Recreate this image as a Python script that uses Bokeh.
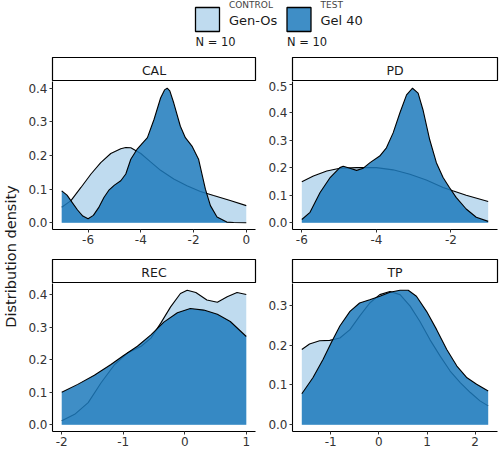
import numpy as np
from bokeh.plotting import figure
from bokeh.layouts import column, row
from bokeh.models import Range1d, FixedTicker, PrintfTickFormatter
from bokeh.core.properties import value
from bokeh.embed import file_html
from bokeh.resources import INLINE

# ---------------- data ----------------
group_names = ["Gen-Os", "Gel 40"]
group_roles = ["CONTROL", "TEST"]
group_n = [10, 10]
panel_names = ["CAL", "PD", "REC", "TP"]

cal_x_ctrl = [-7.0, -6.65, -6.27, -5.89, -5.52, -5.14, -4.76, -4.57, -4.38, -4.0, -3.63, -3.25, -2.75, -2.25, -1.74, -1.24, -0.61, 0.0]
cal_y_ctrl = [0.046, 0.066, 0.105, 0.145, 0.179, 0.206, 0.220, 0.224, 0.223, 0.206, 0.181, 0.156, 0.130, 0.110, 0.093, 0.081, 0.066, 0.051]
cal_x_test = [-7.0, -6.8, -6.6, -6.4, -6.2, -6.0, -5.8, -5.6, -5.4, -5.2, -5.0, -4.76, -4.57, -4.38, -4.13, -3.75, -3.5, -3.25, -3.1, -3.0, -2.9, -2.75, -2.5, -2.31, -2.06, -1.81, -1.55, -1.36, -1.11, -0.74, -0.48, 0.0]
cal_y_test = [0.095, 0.082, 0.060, 0.038, 0.020, 0.012, 0.022, 0.045, 0.075, 0.098, 0.112, 0.125, 0.145, 0.189, 0.220, 0.253, 0.307, 0.371, 0.395, 0.400, 0.392, 0.356, 0.287, 0.253, 0.228, 0.189, 0.100, 0.051, 0.017, 0.002, 0.001, 0.0]

pd_x_ctrl = [-6.0, -5.69, -5.33, -4.98, -4.53, -4.0, -3.55, -3.1, -2.66, -2.21, -1.95, -1.59, -1.0]
pd_y_ctrl = [0.149, 0.170, 0.188, 0.198, 0.200, 0.200, 0.192, 0.176, 0.155, 0.128, 0.116, 0.100, 0.077]
pd_x_test = [-6.0, -5.78, -5.51, -5.24, -4.98, -4.89, -4.71, -4.53, -4.35, -4.17, -3.91, -3.73, -3.55, -3.37, -3.19, -3.03, -2.88, -2.75, -2.57, -2.39, -2.21, -2.04, -1.86, -1.59, -1.32, -1.0]
pd_y_test = [0.012, 0.038, 0.110, 0.164, 0.200, 0.205, 0.198, 0.190, 0.198, 0.218, 0.242, 0.272, 0.326, 0.398, 0.464, 0.488, 0.470, 0.410, 0.302, 0.218, 0.164, 0.128, 0.092, 0.050, 0.020, 0.005]

rec_x_ctrl = [-2.0, -1.79, -1.57, -1.36, -1.14, -0.93, -0.71, -0.55, -0.39, -0.23, -0.07, 0.04, 0.18, 0.36, 0.53, 0.69, 0.85, 1.0]
rec_y_ctrl = [0.012, 0.032, 0.068, 0.129, 0.185, 0.220, 0.241, 0.266, 0.312, 0.362, 0.403, 0.413, 0.406, 0.383, 0.376, 0.393, 0.406, 0.400]
rec_x_test = [-2.0, -1.74, -1.47, -1.2, -1.0, -0.77, -0.55, -0.34, -0.12, 0.09, 0.31, 0.53, 0.74, 1.0]
rec_y_test = [0.100, 0.124, 0.152, 0.185, 0.212, 0.241, 0.276, 0.315, 0.344, 0.357, 0.352, 0.339, 0.317, 0.271]

tp_x_ctrl = [-1.6, -1.44, -1.23, -1.02, -0.81, -0.6, -0.4, -0.19, 0.02, 0.23, 0.44, 0.65, 0.85, 1.06, 1.27, 1.48, 1.69, 1.9, 2.1, 2.27]
tp_y_ctrl = [0.189, 0.203, 0.211, 0.212, 0.218, 0.239, 0.273, 0.306, 0.327, 0.335, 0.327, 0.298, 0.260, 0.214, 0.173, 0.135, 0.106, 0.081, 0.060, 0.0475]
tp_x_test = [-1.6, -1.37, -1.16, -0.99, -0.81, -0.6, -0.4, -0.19, 0.02, 0.23, 0.44, 0.61, 0.78, 0.99, 1.2, 1.41, 1.62, 1.83, 2.03, 2.27]
tp_y_test = [0.078, 0.118, 0.164, 0.206, 0.248, 0.285, 0.306, 0.314, 0.323, 0.333, 0.338, 0.338, 0.323, 0.285, 0.239, 0.189, 0.1475, 0.118, 0.102, 0.085]

cal_x_ticks = [-6, -4, -2, 0]
pd_x_ticks = [-6, -4, -2]
rec_x_ticks = [-2, -1, 0, 1]
tp_x_ticks = [-1, 0, 1, 2]
cal_y_ticks = [0.0, 0.1, 0.2, 0.3, 0.4]
pd_y_ticks = [0.0, 0.1, 0.2, 0.3, 0.4, 0.5]
rec_y_ticks = [0.0, 0.1, 0.2, 0.3, 0.4]
tp_y_ticks = [0.0, 0.1, 0.2, 0.3]

# ---------------- style ----------------
FONT = "DejaVu Sans"
CTRL_FILL = "#bfdbef"
TEST_FILL = "#1d7abc"
TEST_ALPHA = 0.85
TXT = "#333333"

STRIP_H = 24
FRAME_H = 148
GAP_TOP = 30
GAP_BOT = 21
LEFT_B = [31, 32]
FRAME_W = [203, 205]
RIGHT_B = [5, 3]
LABEL_W = 21
HEADER_H = 57
TOTAL_W = LABEL_W + sum(LEFT_B) + sum(FRAME_W) + sum(RIGHT_B)


def strip(name, col):
    w = LEFT_B[col] + FRAME_W[col] + RIGHT_B[col]
    s = figure(width=w, height=STRIP_H, output_backend="svg", toolbar_location=None,
               x_range=Range1d(0, 1), y_range=Range1d(0, 1),
               min_border_left=LEFT_B[col], min_border_right=RIGHT_B[col],
               min_border_top=0, min_border_bottom=0)
    s.axis.visible = False
    s.grid.visible = False
    s.outline_line_color = "black"
    s.outline_line_width = 1.2
    s.background_fill_color = "white"
    s.border_fill_color = "white"
    s.text(x=[0.5], y=[0.45], text=[name], text_align="center", text_baseline="middle",
           text_font=value(FONT), text_font_size="12.5px", text_color="#1a1a1a")
    return s


def panel(col, bottom_b, xc, yc, xt, yt, xticks, yticks):
    w = LEFT_B[col] + FRAME_W[col] + RIGHT_B[col]
    xmin = min(min(xc), min(xt)); xmax = max(max(xc), max(xt))
    ymax = max(max(yc), max(yt))
    dx = 0.05 * (xmax - xmin); dy = 0.05 * ymax
    p = figure(width=w, height=FRAME_H + bottom_b, output_backend="svg", toolbar_location=None,
               x_range=Range1d(xmin - dx, xmax + dx), y_range=Range1d(-dy, ymax + dy),
               min_border_left=LEFT_B[col], min_border_right=RIGHT_B[col],
               min_border_top=0, min_border_bottom=bottom_b)
    p.grid.visible = False
    p.outline_line_color = None
    p.background_fill_color = "white"
    p.border_fill_color = "white"
    # control (drawn first)
    p.varea(x=xc, y1=[0] * len(xc), y2=yc, fill_color=CTRL_FILL, fill_alpha=1.0)
    p.line(x=xc, y=yc, line_color="black", line_width=1.1)
    # test on top, semi transparent
    p.varea(x=xt, y1=[0] * len(xt), y2=yt, fill_color=TEST_FILL, fill_alpha=TEST_ALPHA)
    p.line(x=xt, y=yt, line_color="black", line_width=1.1)
    p.xaxis.ticker = FixedTicker(ticks=xticks)
    p.yaxis.ticker = FixedTicker(ticks=yticks)
    p.xaxis.formatter = PrintfTickFormatter(format="%d")
    p.yaxis.formatter = PrintfTickFormatter(format="%.1f")
    for ax in (p.xaxis, p.yaxis):
        ax.axis_line_color = "black"
        ax.axis_line_width = 1.1
        ax.major_tick_line_color = "#333333"
        ax.major_tick_out = 3
        ax.major_tick_in = 0
        ax.minor_tick_line_color = None
        ax.major_label_text_font = FONT
        ax.major_label_text_font_size = "12px"
        ax.major_label_text_color = TXT
        ax.major_label_standoff = 2
    return p


p1 = panel(0, GAP_TOP, cal_x_ctrl, cal_y_ctrl, cal_x_test, cal_y_test, cal_x_ticks, cal_y_ticks)
p2 = panel(1, GAP_TOP, pd_x_ctrl, pd_y_ctrl, pd_x_test, pd_y_test, pd_x_ticks, pd_y_ticks)
p3 = panel(0, GAP_BOT, rec_x_ctrl, rec_y_ctrl, rec_x_test, rec_y_test, rec_x_ticks, rec_y_ticks)
p4 = panel(1, GAP_BOT, tp_x_ctrl, tp_y_ctrl, tp_x_test, tp_y_test, tp_x_ticks, tp_y_ticks)

grid = column(
    row(strip(panel_names[0], 0), strip(panel_names[1], 1), spacing=0),
    row(p1, p2, spacing=0),
    row(strip(panel_names[2], 0), strip(panel_names[3], 1), spacing=0),
    row(p3, p4, spacing=0),
    spacing=0)

grid_h = 2 * STRIP_H + 2 * FRAME_H + GAP_TOP + GAP_BOT

# y-axis title
lab = figure(width=LABEL_W, height=grid_h, output_backend="svg", toolbar_location=None,
             x_range=Range1d(0, LABEL_W), y_range=Range1d(grid_h, 0),
             min_border=0)
lab.axis.visible = False
lab.grid.visible = False
lab.outline_line_color = None
lab.border_fill_color = "white"
mid = (STRIP_H + (STRIP_H + FRAME_H + GAP_TOP + STRIP_H + FRAME_H)) / 2
lab.text(x=[10.5], y=[mid], text=["Distribution density"], angle=np.pi / 2,
         text_align="center", text_baseline="middle",
         text_font=value(FONT), text_font_size="14.5px", text_color="#1a1a1a")

# header legend
hdr = figure(width=TOTAL_W, height=HEADER_H, output_backend="svg", toolbar_location=None,
             x_range=Range1d(0, TOTAL_W), y_range=Range1d(HEADER_H, 0), min_border=0)
hdr.axis.visible = False
hdr.grid.visible = False
hdr.outline_line_color = None
hdr.border_fill_color = "white"
key_x = [195.0, 286.5]
key_size = 24
key_top = 7.0
fills = [CTRL_FILL, TEST_FILL]
alphas = [1.0, TEST_ALPHA]
for i in range(2):
    hdr.rect(x=[key_x[i] + key_size / 2], y=[key_top + key_size / 2], width=key_size, height=key_size,
             fill_color=fills[i], fill_alpha=alphas[i], line_color="black", line_width=1.3)
    hdr.text(x=[key_x[i] + 33.5], y=[key_top + key_size / 2 + 0.5], text=[group_names[i]],
             text_baseline="middle", text_font=value(FONT), text_font_size="13px", text_color="#1a1a1a")
    hdr.text(x=[key_x[i] + 33.5], y=[4.5], text=[group_roles[i]],
             text_baseline="middle", text_font=value(FONT), text_font_size="9px", text_color="#444444")
    hdr.text(x=[key_x[i]], y=[41.5], text=["N = %d" % group_n[i]],
             text_baseline="middle", text_font=value(FONT), text_font_size="11.5px", text_color="#1a1a1a")

layout = column(hdr, row(lab, grid, spacing=0), spacing=0)

open("out.html", "w").write(file_html(layout, INLINE))
